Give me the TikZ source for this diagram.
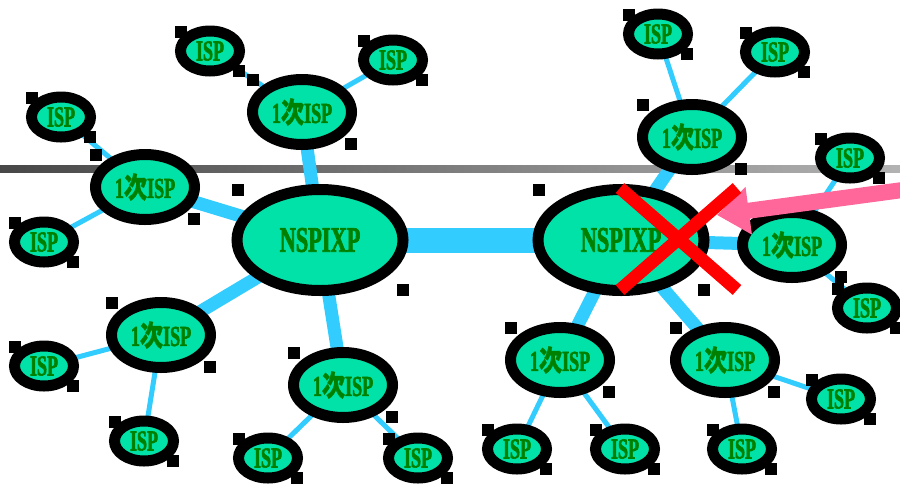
\documentclass[tikz,border=0pt]{standalone}
\usepackage{fontspec}
\newfontfamily\labelfont[FakeStretch=0.62,FakeBold=2]{Liberation Serif}
\newfontfamily\cjkfont[FakeStretch=0.8,FakeBold=1]{Noto Sans CJK JP}
\usetikzlibrary{shapes.geometric,arrows.meta,backgrounds}
\definecolor{ispfill}{RGB}{0,226,168}
\definecolor{ispgreen}{RGB}{0,128,0}
\definecolor{linkblue}{RGB}{51,204,255}
\definecolor{alertpink}{RGB}{255,102,153}
\tikzset{
    isp/.style={ellipse, draw=black, line width=11pt, fill=ispfill, text=ispgreen, inner sep=0pt,
        font=\labelfont\bfseries\fontsize{29}{29}\selectfont},
    leaf/.style={isp, minimum width=59pt, minimum height=40pt},
    primary/.style={isp, minimum width=99pt, minimum height=65pt},
    ixp/.style={isp, minimum width=166pt, minimum height=101pt,
        font=\labelfont\bfseries\fontsize{36}{36}\selectfont},
    thinlink/.style={linkblue, line width=5pt},
    midlink/.style={linkblue, line width=13pt},
    trunklink/.style={linkblue, line width=25pt},
}
\newcommand\handles[1]{%
    \fill (#1.west |- #1.north) rectangle ++(12,12);
    \fill (#1.east |- #1.south) rectangle ++(-12,-12);}
\newcommand\jisp{1{\cjkfont\bfseries 次}ISP}
\begin{document}
\begin{tikzpicture}[x=1pt, y=-1pt]
    \useasboundingbox (0,0) rectangle (900,483);
    % exchange points
    \node[ixp] (ixpW) at (320,240) {NSPIXP};
    \node[ixp] (ixpE) at (621,240) {NSPIXP};
    % primary ISPs
    \node[primary] (pN)  at (302,112) {\jisp};
    \node[primary] (pW)  at (145,187) {\jisp};
    \node[primary] (pSW) at (161,335) {\jisp};
    \node[primary] (pS)  at (343,385) {\jisp};
    \node[primary] (qN)  at (692,137) {\jisp};
    \node[primary] (qE)  at (792,245) {\jisp};
    \node[primary] (qSW) at (560,360) {\jisp};
    \node[primary] (qSE) at (725,360) {\jisp};
    % leaf ISPs
    \node[leaf] (pNa)  at (210,51)  {ISP};
    \node[leaf] (pNb)  at (393,60)  {ISP};
    \node[leaf] (pWa)  at (61,117)  {ISP};
    \node[leaf] (pWb)  at (44,242)  {ISP};
    \node[leaf] (pSWa) at (44,366)  {ISP};
    \node[leaf] (pSWb) at (144,441) {ISP};
    \node[leaf] (pSa)  at (268,458) {ISP};
    \node[leaf] (pSb)  at (418,458) {ISP};
    \node[leaf] (qNa)  at (658,34)  {ISP};
    \node[leaf] (qNb)  at (775,52)  {ISP};
    \node[leaf] (qEa)  at (850,158) {ISP};
    \node[leaf] (qEb)  at (867,308) {ISP};
    \node[leaf] (qSWa) at (517,449) {ISP};
    \node[leaf] (qSWb) at (625,449) {ISP};
    \node[leaf] (qSEa) at (742,449) {ISP};
    \node[leaf] (qSEb) at (841,399) {ISP};
    \begin{scope}[on background layer]
        \shade[left color=black!72, right color=black!30] (0,165) rectangle (900,172);
        \draw[trunklink] (ixpW.center) -- (ixpE.center);
        \foreach \p in {pN,pW,pSW,pS}
            \draw[midlink] (ixpW.center) -- (\p.center);
        \foreach \p in {qN,qE,qSW,qSE}
            \draw[midlink] (ixpE.center) -- (\p.center);
        \foreach \p in {pN,pW,pSW,pS,qN,qE,qSW,qSE} {
            \draw[thinlink] (\p.center) -- (\p a.center);
            \draw[thinlink] (\p.center) -- (\p b.center);
        }
    \end{scope}
    % selection handles
    \foreach \n in {ixpW,ixpE,pN,pW,pSW,pS,qN,qE,qSW,qSE,
        pNa,pNb,pWa,pWb,pSWa,pSWb,pSa,pSb,qNa,qNb,qEa,qEb,qSWa,qSWb,qSEa,qSEb}
        \handles{\n}
    % failure mark
    \coordinate (alertTail) at (910,189);
    \coordinate (alertTip) at (717,215);
    \draw[alertpink, line width=16pt, -{Triangle[length=32pt,width=46pt]}] (alertTail) -- (alertTip);
    \draw[red, line width=13pt] (620,188) -- (737,290);
    \draw[red, line width=13pt] (737,188) -- (620,290);
\end{tikzpicture}
\end{document}
